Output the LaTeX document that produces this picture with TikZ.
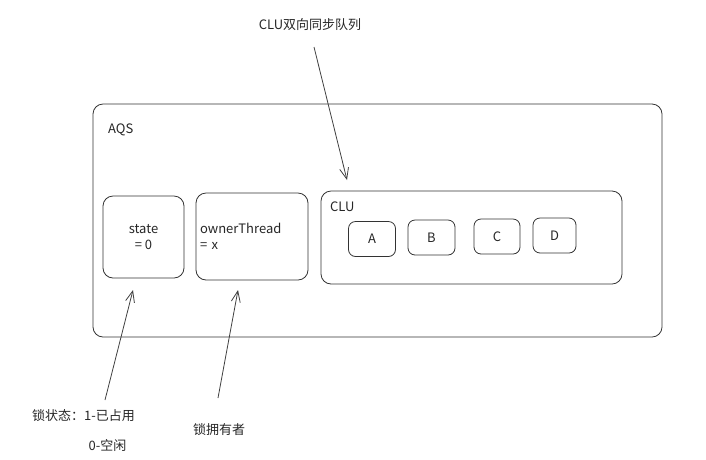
\documentclass[tikz,border=0pt]{standalone}
\usepackage{fontspec}
\setmainfont{Noto Sans CJK SC}
\usetikzlibrary{arrows.meta}

\tikzset{
  box/.style = {draw = black!80, line width = 0.8pt, rounded corners = 10pt, inner sep = 0pt},
  note/.style = {font = \fontsize{13}{16}\selectfont, text = black!85, inner sep = 0pt},
  arr/.style = {draw = black!75, line width = 0.8pt, -{Straight Barb[length = 11pt, width = 9pt]}}
}

\begin{document}
\begin{tikzpicture}[x = 1pt, y = -1pt]
\useasboundingbox (0, 0) rectangle (706, 459);

\node[box, minimum width = 569pt, minimum height = 233pt] (aqs) at (377.5, 220.5) {};
\node[note, anchor = west] (aqsLabel) at (108, 130) {AQS};

\node[box, note, minimum width = 81pt, minimum height = 82pt, align = center] (state) at (143.5, 237) {state\\= 0};
\node[box, note, minimum width = 112pt, minimum height = 87pt, text width = 104pt, align = left] (owner) at (252, 236.5) {ownerThread\\= x};

\node[box, minimum width = 301pt, minimum height = 93pt] (clu) at (471.5, 237.5) {};
\node[note, anchor = west] (cluLabel) at (330, 207) {CLU};

\node[box, note, minimum width = 47pt, minimum height = 35pt, rounded corners = 7pt] (a) at (372, 239) {A};
\node[box, note, minimum width = 47pt, minimum height = 35pt, rounded corners = 7pt] (b) at (431.5, 237.5) {B};
\node[box, note, minimum width = 46pt, minimum height = 35pt, rounded corners = 7pt] (c) at (497, 236.5) {C};
\node[box, note, minimum width = 43pt, minimum height = 35pt, rounded corners = 7pt] (d) at (554.5, 235.5) {D};

% notes
\node[note] (cluNote) at (310, 25) {CLU双向同步队列};
\node[note] (stateNote) at (83.5, 416) {锁状态：1-已占用};
\node[note] (stateNoteB) at (107.5, 446) {0-空闲};
\node[note] (ownerNote) at (219, 430) {锁拥有者};

\coordinate (cluTail) at (314, 47);
\coordinate (cluHead) at (347, 180);
\coordinate (stateTail) at (105, 400);
\coordinate (stateHead) at (133, 290);
\coordinate (ownerTail) at (218, 398);
\coordinate (ownerHead) at (238, 290);

\draw[arr] (cluTail) -- (cluHead);
\draw[arr] (stateTail) -- (stateHead);
\draw[arr] (ownerTail) -- (ownerHead);

\end{tikzpicture}
\end{document}
